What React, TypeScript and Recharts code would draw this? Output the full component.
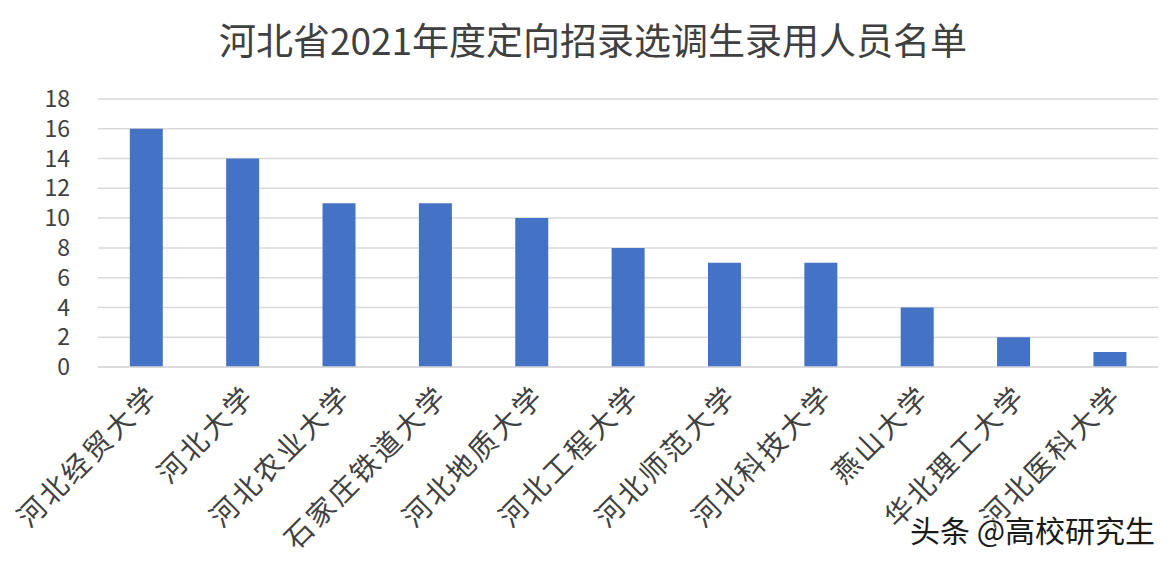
import React from "react";
import { BarChart, Bar, XAxis, YAxis, CartesianGrid } from "recharts";

const categories = [
  "河北经贸大学",
  "河北大学",
  "河北农业大学",
  "石家庄铁道大学",
  "河北地质大学",
  "河北工程大学",
  "河北师范大学",
  "河北科技大学",
  "燕山大学",
  "华北理工大学",
  "河北医科大学",
];
const counts = [16, 14, 11, 11, 10, 8, 7, 7, 4, 2, 1];
const yTicks = [0, 2, 4, 6, 8, 10, 12, 14, 16, 18];
const title = "河北省2021年度定向招录选调生录用人员名单";
const watermark = "头条 @高校研究生";

const data = categories.map((name, i) => ({ name, value: counts[i] }));

const FONT = "'Noto Sans CJK SC', 'Noto Sans', sans-serif";

const XTick = (props: any) => {
  const { x, y, payload } = props;
  return (
    <g transform={`translate(${x + 6},${y + 14})`}>
      <text
        x={0}
        y={0}
        textAnchor="end"
        dominantBaseline="central"
        transform="rotate(-45)"
        fill="#404040"
        fontSize={28}
        fontFamily={FONT}
        letterSpacing={3}
      >
        {payload.value}
      </text>
    </g>
  );
};

export default function App() {
  return (
    <div
      style={{
        position: "absolute",
        left: 0,
        top: 0,
        width: 1174,
        height: 566,
        background: "#ffffff",
        overflow: "hidden",
      }}
    >
      <div
        style={{
          position: "absolute",
          left: 0,
          top: 14,
          width: 1186,
          textAlign: "center",
          fontFamily: FONT,
          fontSize: 37,
          lineHeight: "50px",
          color: "#404040",
        }}
      >
        {title}
      </div>
      <BarChart
        width={1174}
        height={566}
        data={data}
        margin={{ top: 99, right: 16, left: 0, bottom: 0 }}
        barCategoryGap="33%"
      >
        <CartesianGrid vertical={false} stroke="#d9d9d9" strokeWidth={1.5} />
        <XAxis
          dataKey="name"
          interval={0}
          height={199}
          tick={<XTick />}
          tickLine={false}
          axisLine={{ stroke: "#d9d9d9", strokeWidth: 1.5 }}
        />
        <YAxis
          width={98}
          domain={[0, 18]}
          ticks={yTicks}
          interval={0}
          tickLine={false}
          axisLine={false}
          tickMargin={22}
          tick={{ fill: "#404040", fontSize: 23, fontFamily: FONT }}
        />
        <Bar dataKey="value" fill="#4472c4" isAnimationActive={false} />
      </BarChart>
      <div
        style={{
          position: "absolute",
          left: 910,
          top: 509,
          fontFamily: FONT,
          fontSize: 30,
          lineHeight: "40px",
          color: "#1a1a1a",
          textShadow: "0 0 3px #ffffff, 0 0 3px #ffffff",
          whiteSpace: "nowrap",
        }}
      >
        {watermark}
      </div>
    </div>
  );
}
